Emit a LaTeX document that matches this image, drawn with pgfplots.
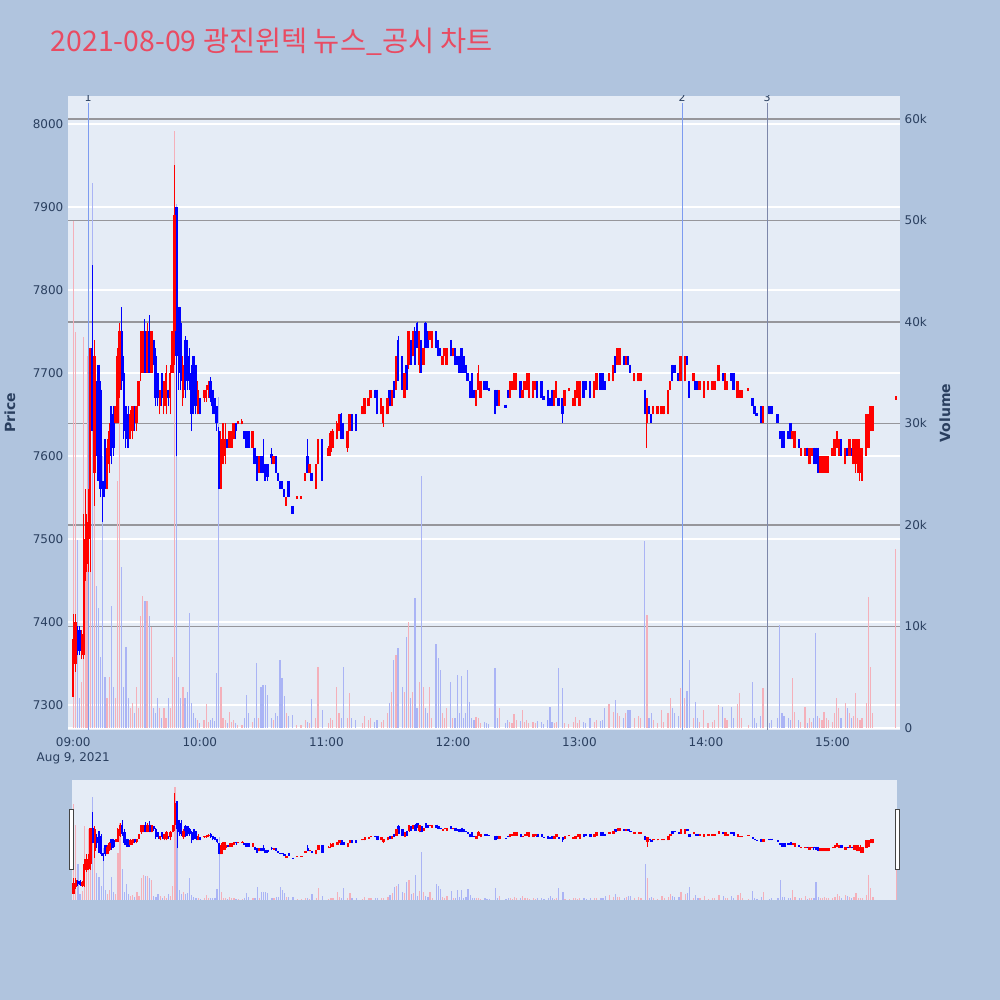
\documentclass[border=0pt]{standalone}
\usepackage{fontspec}
\setmainfont{DejaVu Sans}
\newfontfamily\krfont{Noto Sans CJK KR}
\usepackage{pgfplots}
\usepackage{pgfplotstable}
\pgfplotsset{compat=1.18}
\definecolor{pagebg}{RGB}{176,196,222}
\definecolor{plotbg}{RGB}{229,236,246}
\definecolor{txt}{RGB}{42,63,95}
\definecolor{vgrid}{RGB}{150,150,155}
\definecolor{upc}{RGB}{255,0,0}
\definecolor{dnc}{RGB}{0,0,255}
\definecolor{upv}{RGB}{244,176,186}
\definecolor{dnv}{RGB}{170,180,245}
\definecolor{ttl}{RGB}{233,75,98}
\definecolor{evA}{RGB}{125,155,240}
\definecolor{evB}{RGB}{125,135,170}
\definecolor{handlec}{RGB}{68,68,68}

\pgfplotstableread{
t o h l c v
0 7310 7410 7310 7380 50
1 7350 7410 7340 7400 39
2 7390 7395 7360 7370 18.5
3 7390 7395 7360 7365 3
4 7360 7390 7355 7385 4.5
5 7360 7530 7355 7500 38.5
6 7460 7560 7450 7530 16
7 7470 7560 7460 7520 36.7
8 7500 7730 7460 7730 30
9 7730 7830 7630 7630 53.7
10 7580 7740 7540 7720 25
11 7670 7690 7600 7630 14
12 7710 7710 7570 7570 11.8
13 7680 7690 7550 7560 7
14 7570 7570 7520 7550 26.8
15 7620 7620 7550 7560 5
16 7560 7620 7560 7610 3
17 7590 7640 7580 7630 5
18 7660 7660 7590 7600 12
19 7650 7660 7600 7610 4
20 7640 7660 7640 7660 3
21 7640 7730 7640 7720 24.3
22 7680 7760 7670 7750 39.9
23 7750 7780 7680 7690 15.9
24 7700 7720 7620 7630 4
25 7660 7660 7610 7620 8
26 7650 7660 7610 7610 3
27 7620 7655 7620 7650 2
28 7630 7660 7620 7660 2.5
29 7660 7660 7630 7640 1.5
30 7640 7660 7630 7660 4
31 7660 7690 7660 7690 2
32 7700 7750 7690 7750 11
33 7700 7750 7700 7750 13
34 7750 7765 7700 7700 12.5
35 7700 7760 7700 7750 12.5
36 7750 7770 7700 7700 11
37 7700 7750 7700 7750 10
38 7740 7740 7710 7720 2
39 7720 7730 7660 7670 1.5
40 7700 7700 7660 7670 3
41 7660 7680 7650 7680 2
42 7700 7700 7660 7670 1
43 7660 7690 7650 7690 2
44 7660 7710 7650 7700 1
45 7680 7680 7660 7670 3
46 7670 7710 7650 7700 2
47 7700 7750 7700 7750 7
48 7750 7950 7710 7890 58.8
49 7900 7900 7600 7720 51.6
50 7780 7780 7680 7700 5
51 7760 7780 7680 7690 3
52 7670 7720 7660 7710 4
53 7740 7745 7670 7680 3
54 7740 7740 7680 7690 3.5
55 7720 7730 7680 7690 11.3
56 7700 7710 7630 7650 2.5
57 7720 7720 7650 7660 1.5
58 7710 7710 7650 7660 1
59 7650 7690 7650 7680 0.8
60 7670 7670 7650 7650 0.5
62 7670 7680 7665 7680 0.8
63 7670 7685 7665 7680 2.4
64 7680 7690 7670 7685 0.6
65 7690 7695 7665 7670 0.8
66 7680 7680 7650 7660 1
67 7670 7670 7650 7650 0.7
68 7660 7660 7630 7640 5.4
69 7630 7635 7560 7560 32.6
70 7560 7630 7560 7620 4
71 7590 7640 7590 7640 1
72 7600 7640 7590 7620 0.8
73 7620 7620 7610 7610 0.5
74 7610 7630 7610 7630 1.6
75 7610 7630 7610 7630 0.6
76 7620 7640 7620 7640 0.8
77 7640 7640 7620 7630 0.5
78 7638 7642 7638 7642 0.3
80 7638 7645 7638 7642 0.3
81 7630 7630 7620 7620 1
82 7630 7630 7610 7610 3.3
83 7630 7630 7610 7610 1.5
85 7610 7630 7610 7630 0.6
86 7610 7610 7590 7590 1
87 7600 7600 7570 7570 6.4
88 7580 7600 7580 7600 1
89 7600 7600 7580 7580 4
90 7600 7620 7580 7580 4.2
91 7590 7590 7570 7570 4.2
92 7590 7590 7570 7575 3.3
94 7602 7610 7590 7598 1
95 7590 7600 7590 7600 0.8
96 7600 7600 7580 7580 1.5
97 7580 7580 7570 7570 1.2
98 7570 7570 7560 7560 6.7
99 7570 7570 7560 7560 4.9
100 7560 7560 7550 7550 3.2
101 7540 7550 7540 7550 1.5
102 7570 7570 7550 7550 1.2
104 7540 7540 7530 7530 1.3
106 7548 7552 7548 7552 0.3
108 7548 7552 7548 7552 0.3
110 7570 7580 7570 7580 0.8
111 7600 7620 7580 7580 0.6
112 7580 7590 7580 7590 0.5
113 7580 7580 7570 7570 2.9
115 7560 7590 7560 7590 1
116 7590 7620 7590 7620 6
118 7620 7620 7570 7570 1.8
121 7600 7612 7600 7610 0.5
122 7605 7630 7600 7628 1
123 7610 7632 7610 7630 0.8
125 7620 7642 7620 7640 4
126 7630 7650 7630 7650 1.5
127 7650 7652 7620 7620 1
128 7640 7640 7620 7620 6
130 7610 7630 7605 7630 1
131 7630 7650 7630 7650 3.4
132 7650 7650 7630 7630 1
134 7650 7650 7630 7630 0.8
137 7650 7660 7650 7660 0.5
138 7650 7670 7650 7670 1.2
140 7660 7670 7660 7670 0.8
141 7670 7680 7670 7680 1
143 7680 7680 7670 7670 0.6
144 7680 7680 7650 7650 0.8
146 7650 7670 7650 7670 0.6
147 7640 7660 7635 7660 0.8
149 7650 7670 7650 7670 1.5
150 7680 7680 7660 7660 2.5
151 7660 7680 7660 7680 3.5
152 7690 7690 7670 7670 6.7
153 7680 7720 7680 7720 7.2
154 7740 7745 7690 7690 7.9
156 7720 7720 7680 7680 4
157 7670 7700 7670 7700 3.5
158 7710 7710 7680 7680 9
159 7710 7750 7705 7750 10.4
160 7740 7740 7710 7710 3
161 7720 7750 7720 7750 3.5
162 7750 7755 7710 7710 12.8
163 7760 7762 7730 7730 2
164 7710 7750 7700 7750 4.5
165 7740 7740 7700 7700 24.8
166 7710 7730 7710 7730 4
167 7760 7762 7730 7730 2
168 7750 7750 7730 7730 1.5
169 7740 7750 7740 7750 4
170 7730 7750 7730 7750 1
172 7750 7750 7730 7730 8.3
173 7740 7740 7720 7720 6.9
174 7730 7730 7720 7720 5.7
175 7710 7720 7710 7720 1.5
176 7720 7730 7720 7730 1
177 7710 7730 7710 7730 2
179 7740 7740 7720 7720 4.5
180 7720 7730 7720 7730 1
181 7730 7730 7710 7710 1
182 7720 7720 7710 7710 5.2
183 7720 7720 7700 7700 1.5
184 7730 7730 7700 7700 5.1
185 7720 7720 7700 7700 1
186 7710 7710 7700 7700 1.5
187 7700 7700 7690 7690 5.7
188 7690 7690 7670 7670 2.6
189 7700 7700 7670 7670 1
190 7680 7680 7670 7670 0.8
191 7660 7680 7660 7680 1.1
192 7680 7710 7680 7700 1
193 7670 7690 7670 7690 0.5
195 7690 7690 7680 7680 0.6
196 7690 7690 7680 7680 0.5
197 7682 7682 7678 7678 0.4
200 7680 7680 7650 7650 5.9
201 7680 7680 7660 7660 1
202 7660 7680 7660 7680 2
205 7662 7662 7658 7658 0.5
206 7680 7680 7670 7670 0.8
207 7670 7690 7670 7690 0.6
208 7680 7690 7680 7690 0.5
209 7680 7700 7680 7700 1.4
210 7680 7700 7680 7700 0.8
212 7690 7690 7670 7670 0.7
213 7670 7680 7670 7680 1.8
214 7680 7690 7680 7690 0.6
215 7680 7700 7680 7700 0.8
216 7670 7700 7670 7700 0.5
218 7670 7690 7670 7690 0.6
219 7680 7690 7680 7690 0.5
220 7690 7690 7670 7670 0.7
222 7690 7690 7670 7670 0.6
223 7672 7672 7668 7668 0.4
225 7680 7680 7660 7660 0.8
226 7670 7670 7660 7660 2.1
227 7680 7680 7660 7660 0.6
228 7660 7680 7660 7680 0.5
229 7670 7690 7670 7690 0.6
230 7670 7670 7660 7660 5.9
232 7670 7670 7640 7650 3.9
233 7660 7680 7660 7680 0.5
235 7678 7682 7678 7682 0.4
237 7660 7670 7660 7670 0.6
238 7660 7680 7660 7680 1.1
239 7670 7690 7670 7690 0.5
240 7660 7690 7660 7690 0.8
242 7690 7690 7670 7670 0.6
243 7690 7690 7680 7680 0.5
245 7690 7690 7670 7670 1
247 7670 7690 7670 7690 0.6
248 7680 7700 7680 7700 0.8
250 7700 7700 7680 7680 0.7
251 7700 7700 7680 7680 0.8
252 7690 7690 7680 7680 2
254 7690 7700 7690 7700 2.4
256 7690 7710 7690 7710 1.6
257 7720 7720 7700 7700 2.8
258 7710 7730 7710 7730 1.5
259 7710 7730 7710 7730 1.2
261 7720 7720 7710 7710 1
262 7710 7720 7710 7720 1.5
263 7720 7720 7710 7710 1.8
264 7710 7710 7700 7700 1.8
266 7690 7700 7690 7700 1
268 7690 7700 7690 7700 1.2
269 7690 7700 7690 7700 1
271 7680 7680 7650 7650 18.4
272 7640 7670 7610 7670 11.1
273 7660 7660 7650 7650 1
274 7650 7650 7640 7640 1.5
275 7650 7660 7650 7660 0.8
277 7650 7660 7650 7660 0.5
279 7650 7660 7650 7660 1.8
280 7650 7660 7650 7660 0.6
282 7650 7680 7650 7680 1.5
283 7680 7690 7680 7690 3
284 7710 7710 7690 7690 2
285 7710 7710 7700 7700 1.5
287 7700 7700 7690 7690 1.2
288 7690 7720 7690 7720 3.9
290 7690 7720 7690 7720 3
291 7720 7720 7710 7710 3.6
292 7690 7690 7670 7670 6.7
294 7690 7700 7690 7700 1
295 7690 7690 7680 7680 2.6
296 7690 7690 7680 7680 1
297 7680 7690 7680 7690 0.6
299 7670 7690 7670 7690 1.8
301 7680 7690 7680 7690 0.5
303 7680 7690 7680 7690 0.6
304 7680 7690 7680 7690 0.8
306 7690 7710 7690 7710 2.3
308 7700 7700 7690 7690 2.1
309 7680 7700 7680 7700 1
310 7680 7690 7680 7690 0.8
312 7700 7700 7690 7690 2.1
313 7700 7700 7680 7680 1
315 7670 7690 7670 7690 2.4
316 7670 7680 7670 7680 3.4
317 7670 7680 7670 7680 1
320 7678 7682 7678 7682 0.3
322 7670 7670 7660 7660 4.5
323 7660 7660 7650 7650 1
324 7652 7652 7648 7648 0.5
326 7660 7660 7640 7640 1.2
327 7640 7660 7640 7660 3.9
330 7660 7660 7650 7650 0.5
331 7660 7660 7650 7650 0.8
334 7650 7650 7640 7640 1
335 7630 7630 7620 7620 10.1
336 7630 7630 7610 7610 1.5
337 7630 7630 7610 7610 1.2
339 7630 7630 7620 7620 1
340 7640 7640 7620 7620 0.8
341 7620 7630 7620 7630 4.9
342 7610 7630 7610 7630 1.6
344 7620 7620 7610 7610 0.8
345 7600 7610 7600 7610 0.6
347 7600 7610 7600 7610 2.1
348 7610 7610 7600 7600 0.5
349 7590 7610 7590 7610 1
350 7600 7610 7600 7610 0.6
351 7610 7610 7590 7600 1
352 7610 7610 7590 7590 9.4
353 7610 7610 7580 7580 1.2
354 7580 7600 7580 7600 1
355 7580 7600 7580 7600 0.8
356 7580 7600 7580 7600 1.6
357 7580 7600 7580 7600 1
358 7580 7600 7580 7600 0.8
360 7600 7610 7600 7610 0.6
361 7600 7620 7600 7620 1.5
362 7610 7630 7610 7630 3
363 7600 7620 7600 7620 2
364 7620 7620 7600 7600 1
366 7590 7610 7590 7610 2.5
367 7610 7610 7600 7600 2
368 7600 7620 7600 7620 1.5
369 7610 7610 7600 7600 1
370 7590 7620 7590 7620 1.2
371 7590 7620 7580 7620 3.4
372 7580 7620 7580 7620 1
373 7580 7620 7570 7610 0.8
374 7570 7610 7570 7610 1
376 7600 7650 7600 7650 2.5
377 7610 7650 7610 7650 12.9
378 7630 7660 7630 7660 6
379 7630 7660 7630 7660 1.5
390 7668 7672 7668 7672 17.6
}\data

\pgfplotsset{
  /pgfplots/table/upx/.style={/pgfplots/table/x expr={\thisrow{c}<\thisrow{o} ? nan : \thisrow{t}}},
  /pgfplots/table/dnx/.style={/pgfplots/table/x expr={\thisrow{c}<\thisrow{o} ? \thisrow{t} : nan}},
}

\newcommand{\volbars}{%
  \addplot[draw=dnv, line width=0.9pt, quiver={u=0,v=\thisrow{v}}]
    table[dnx, y expr=0] {\data};
  \addplot[draw=upv, line width=0.9pt, quiver={u=0,v=\thisrow{v}}]
    table[upx, y expr=0] {\data};
}
\newcommand{\candles}{%
  \addplot[draw=dnc, line width=0.75pt, quiver={u=0,v=\thisrow{h}-\thisrow{l}}]
    table[dnx, y=l] {\data};
  \addplot[draw=upc, line width=0.75pt, quiver={u=0,v=\thisrow{h}-\thisrow{l}}]
    table[upx, y=l] {\data};
  \addplot[draw=dnc, line width=1.8pt, quiver={u=0,v=\thisrow{c}-\thisrow{o}}]
    table[dnx, y=o] {\data};
  \addplot[draw=upc, line width=1.8pt, quiver={u=0,v=\thisrow{c}-\thisrow{o}}]
    table[upx, y=o] {\data};
}

\begin{document}
\begin{tikzpicture}
\fill[pagebg] (0pt,0pt) rectangle (750pt,750pt);
\path[use as bounding box] (0pt,0pt) rectangle (750pt,750pt);

% ---------- main: background, price grid and ticks
\begin{axis}[
  at={(51pt,202.5pt)}, anchor=south west, scale only axis,
  width=624pt, height=475.5pt,
  xmin=-2.5, xmax=392, ymin=7269.9, ymax=8033.7,
  axis background/.style={fill=plotbg},
  axis line style={draw=none}, tick style={draw=none},
  ytick={7300,7400,7500,7600,7700,7800,7900,8000},
  yticklabels={7300,7400,7500,7600,7700,7800,7900,8000},
  xtick={0,60,120,180,240,300,360},
  xticklabels={{09:00\\Aug 9, 2021},10:00,11:00,12:00,13:00,14:00,15:00},
  xticklabel style={align=center, font=\fontsize{9}{11.3}\selectfont, text=txt, yshift=-2pt},
  yticklabel style={font=\fontsize{9}{11}\selectfont, text=txt},
  ymajorgrids, grid style={white, line width=0.9pt},
]
\addplot[draw=none] coordinates {(0,7500)};
\end{axis}

% ---------- main: volume
\begin{axis}[
  at={(51pt,202.5pt)}, anchor=south west, scale only axis,
  width=624pt, height=475.5pt,
  xmin=-2.5, xmax=392, ymin=-0.197, ymax=62.27,
  axis x line=none, axis y line*=right,
  axis line style={draw=none}, tick style={draw=none},
  ytick={0,10,20,30,40,50,60},
  yticklabels={0,10k,20k,30k,40k,50k,60k},
  yticklabel style={font=\fontsize{9}{11}\selectfont, text=txt},
  ymajorgrids, grid style={vgrid, line width=0.8pt},
]
\draw[white, line width=1.5pt] (axis cs:-2.5,0) -- (axis cs:392,0);
\volbars
\end{axis}

% ---------- main: candles and event lines
\begin{axis}[
  at={(51pt,202.5pt)}, anchor=south west, scale only axis,
  width=624pt, height=475.5pt,
  xmin=-2.5, xmax=392, ymin=7269.9, ymax=8033.7,
  hide axis,
]
\draw[evA, line width=0.75pt] (axis cs:7,7269.9) -- (axis cs:7,8025);
\draw[evA, line width=0.75pt] (axis cs:288.7,7269.9) -- (axis cs:288.7,8025);
\draw[evB, line width=0.75pt] (axis cs:329,7269.9) -- (axis cs:329,8025);
\candles
\node[text=txt, font=\fontsize{8.25}{10}\selectfont] at (axis cs:7,8032) {1};
\node[text=txt, font=\fontsize{8.25}{10}\selectfont] at (axis cs:288.7,8032) {2};
\node[text=txt, font=\fontsize{8.25}{10}\selectfont] at (axis cs:329,8032) {3};
\end{axis}

% ---------- range slider
\begin{axis}[
  at={(54pt,75pt)}, anchor=south west, scale only axis,
  width=618.75pt, height=90pt,
  xmin=-0.8, xmax=390.4, ymin=-0.2, ymax=62.3,
  axis background/.style={fill=plotbg},
  axis line style={draw=none}, ticks=none,
]
\volbars
\end{axis}
\begin{axis}[
  at={(54pt,75pt)}, anchor=south west, scale only axis,
  width=618.75pt, height=90pt,
  xmin=-0.8, xmax=390.4, ymin=7269.9, ymax=8033.7,
  hide axis,
]
\candles
\end{axis}
\draw[fill=white, draw=handlec, line width=0.75pt] (52pt,97.5pt) rectangle (55pt,142.5pt);
\draw[fill=white, draw=handlec, line width=0.75pt] (671.5pt,97.5pt) rectangle (674.5pt,142.5pt);

% ---------- titles
\node[anchor=base west, text=ttl, font=\krfont\fontsize{21.3}{25}\selectfont, inner sep=0pt]
  at (38pt,711pt) {2021-08-09 광진윈텍 뉴스\_공시 차트};
\node[rotate=90, text=txt, font=\bfseries\fontsize{10.5}{12}\selectfont] at (7.5pt,440.25pt) {Price};
\node[rotate=90, text=txt, font=\bfseries\fontsize{10.5}{12}\selectfont] at (708.75pt,440.25pt) {Volume};
\end{tikzpicture}
\end{document}
